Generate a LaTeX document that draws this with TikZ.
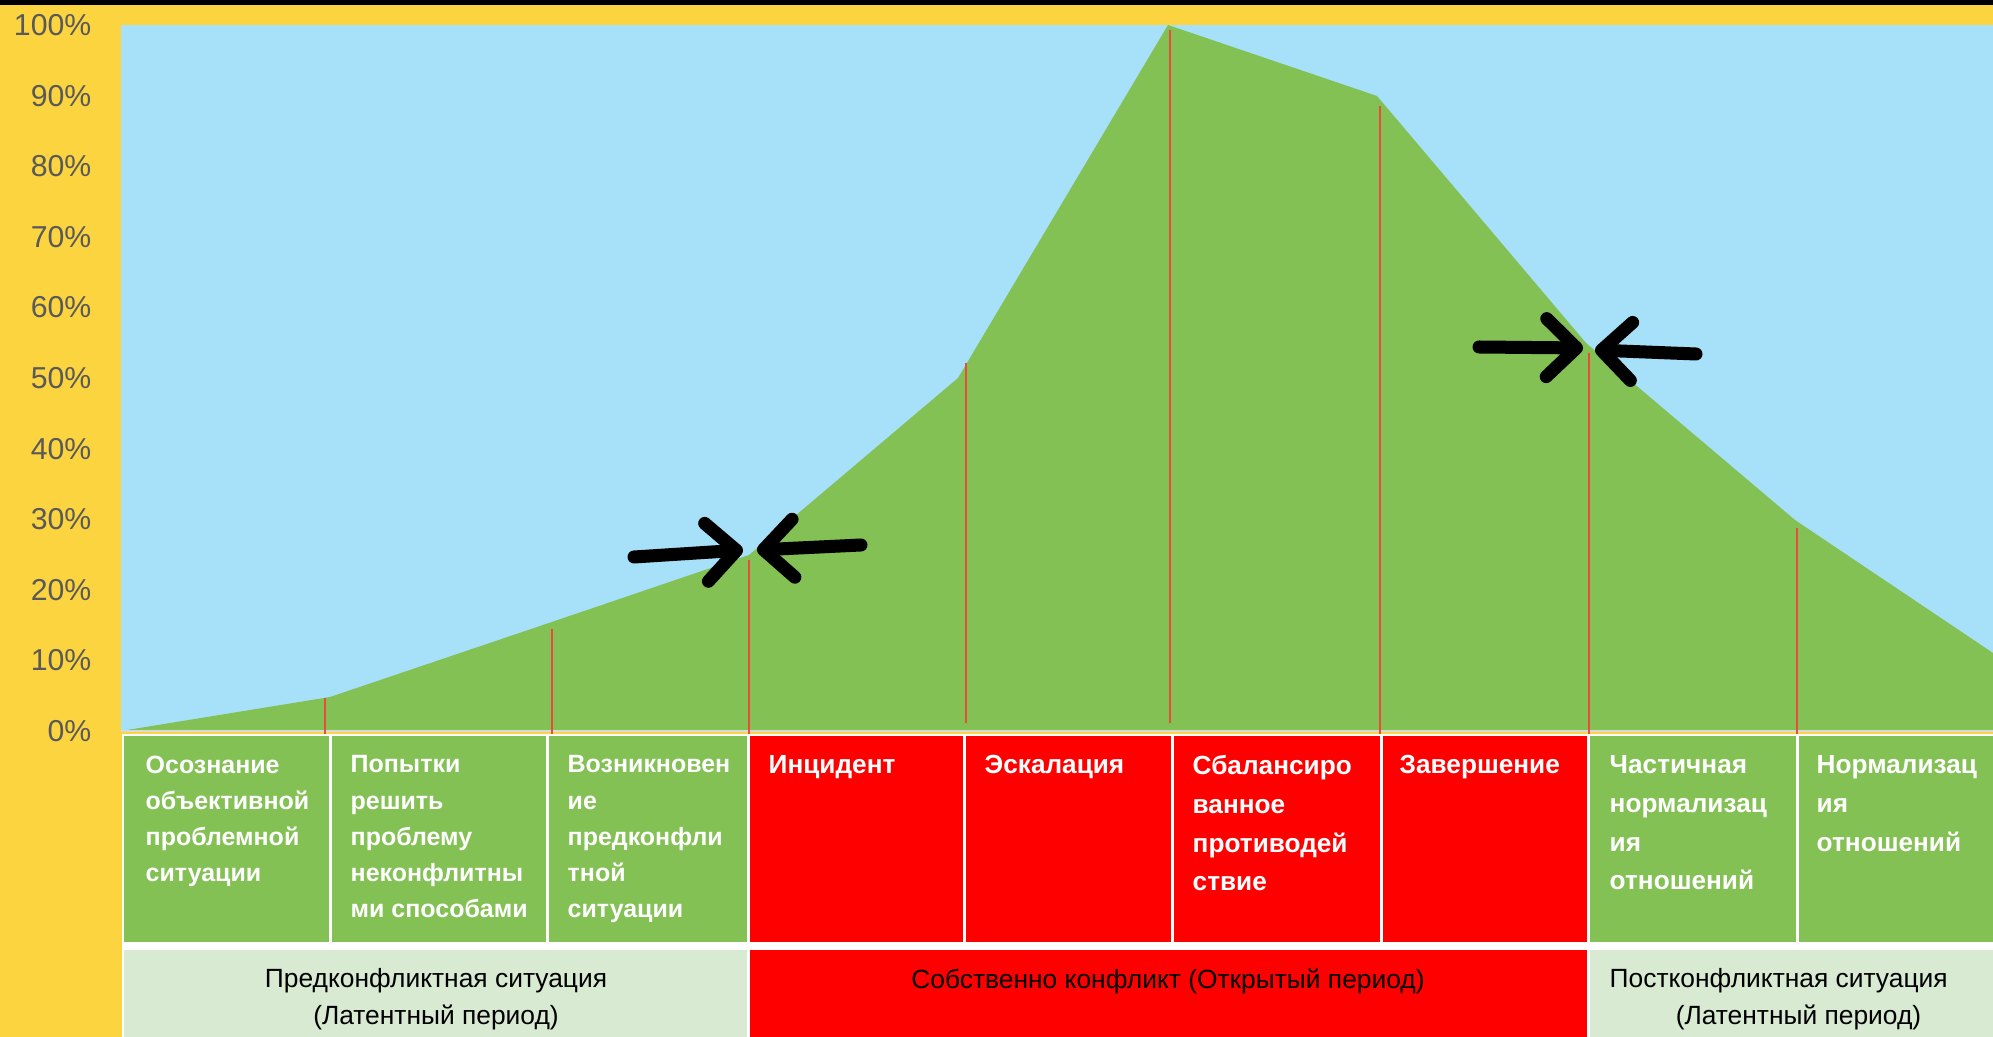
\documentclass[tikz,border=0pt]{standalone}
\usepackage{fontspec}
\setmainfont{Liberation Sans}
\usetikzlibrary{arrows.meta}

\definecolor{bgyellow}{RGB}{252,212,64}
\definecolor{sky}{RGB}{167,224,249}
\definecolor{grass}{RGB}{131,193,84}
\definecolor{pale}{RGB}{217,234,211}
\definecolor{dropred}{RGB}{231,76,60}
\definecolor{axisgray}{RGB}{89,89,89}

\tikzset{
  stage/.style={anchor=north west,inner sep=0,align=left,text=white,font=\bfseries\fontsize{7.45}{11}\selectfont},
  early/.style={stage,font=\bfseries\fontsize{7.1}{10.3}\selectfont},
  period/.style={anchor=north,inner sep=0,align=center,font=\fontsize{7.5}{10.5}\selectfont},
  drop/.style={draw=dropred,line width=0.02cm},
  squeeze/.style={line width=0.13cm,line cap=round,-{Straight Barb[round,length=0.3cm,width=0.58cm]}}
}

\begin{document}
\begin{tikzpicture}[x=0.01cm,y=-0.01cm]
  \useasboundingbox (0,0) rectangle (1993,1037);
  \fill[bgyellow] (0,0) rectangle (1993,1037);
  \fill[black] (0,0) rectangle (1993,5);

  % chart area
  \fill[sky] (121,25) rectangle (1993,731);
  \fill[grass] (121,731) -- (330,697) -- (540,626) -- (749,555) -- (958,378)
    -- (1168,25) -- (1377,96) -- (1586,343) -- (1795,520) -- (1993,653)
    -- (1993,731) -- cycle;
  \draw[gray!30,line width=0.015cm] (121,731) -- (1993,731);

  \begin{scope}[every node/.style={anchor=east,inner sep=0,text=axisgray,font=\fontsize{8.6}{10}\selectfont}]
    \foreach \v [count=\i from 0] in {0,10,...,100}
      \node (y\v) at (92,{731-70.6*\i}) {\v\%};
  \end{scope}

  \foreach \x/\t/\b in {325/698/734,552/629/734,749/560/734,966/363/723,
                        1170/30/723,1380/106/734,1589/353/734,1797/528/734}
    \draw[drop] (\x,\t) -- (\x,\b);

  % arrows
  \coordinate (lowL) at (634,557);
  \coordinate (lowLtip) at (743,550);
  \coordinate (lowR) at (861,545);
  \coordinate (lowRtip) at (757,550);
  \coordinate (highL) at (1479,347);
  \coordinate (highLtip) at (1583,348);
  \coordinate (highR) at (1696,354);
  \coordinate (highRtip) at (1595,350);
  \draw[squeeze] (lowL) -- (lowLtip);
  \draw[squeeze] (lowR) -- (lowRtip);
  \draw[squeeze] (highL) -- (highLtip);
  \draw[squeeze] (highR) -- (highRtip);

  % table
  \fill[white] (122,734) rectangle (1993,1037);
  \foreach \a/\b/\c in {122/330/grass,330/547/grass,547/748/grass,748/964/red,
      964/1172/red,1172/1381/red,1381/1588/red,1588/1797/grass,1797/1996/grass}
    \fill[\c] ({\a+1.5},736) rectangle ({\b-1.5},942);
  \fill[pale] (123.5,950) rectangle (746.5,1037);
  \fill[red] (749.5,950) rectangle (1586.5,1037);
  \fill[pale] (1589.5,950) rectangle (1993,1037);

  \node[early] (s1) at (145,755) {Осознание\\объективной\\проблемной\\ситуации};
  \node[early] (s2) at (350,755) {Попытки\\решить\\проблему\\неконфлитны\\ми способами};
  \node[early] (s3) at (567,755) {Возникновен\\ие\\предконфли\\тной\\ситуации};
  \node[stage] (s4) at (768,755) {Инцидент};
  \node[stage] (s5) at (984,755) {Эскалация};
  \node[stage] (s6) at (1192,755) {Сбалансиро\\ванное\\противодей\\ствие};
  \node[stage] (s7) at (1399,755) {Завершение};
  \node[stage] (s8) at (1609,755) {Частичная\\нормализац\\ия\\отношений};
  \node[stage] (s9) at (1816,755) {Нормализац\\ия\\отношений};

  \node[period] (p1) at (436,968) {Предконфликтная ситуация\\(Латентный период)};
  \node[period] (p2) at (1168,968) {Собственно конфликт (Открытый период)};
  \node[period,anchor=north west,align=left] (p3) at (1609,968)
    {Постконфликтная ситуация\\\hspace*{0.66cm}(Латентный период)};
\end{tikzpicture}
\end{document}
